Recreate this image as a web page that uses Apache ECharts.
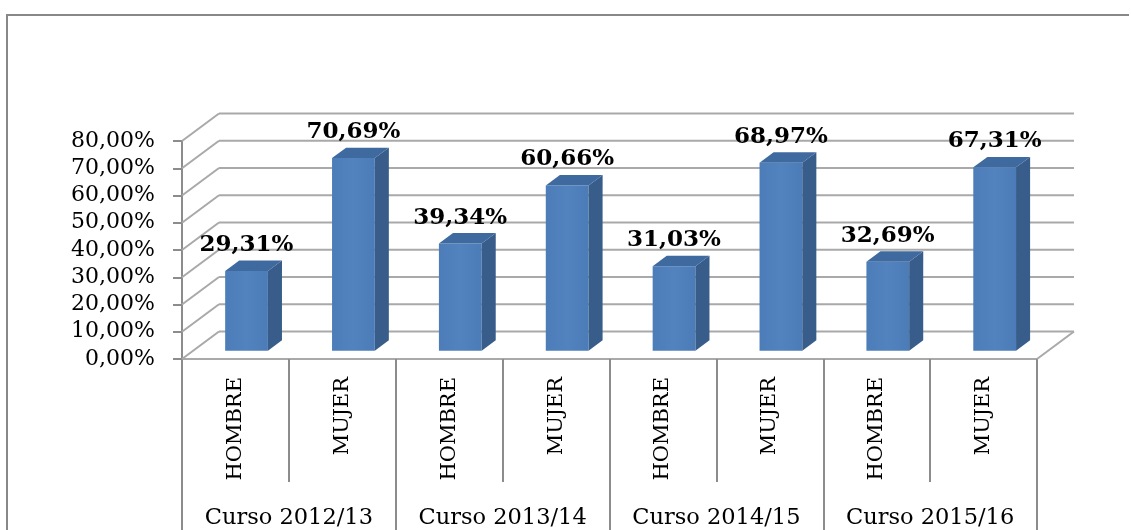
<!DOCTYPE html>
<html><head><meta charset="utf-8">
<script src="https://cdn.jsdelivr.net/npm/echarts@6/dist/echarts.min.js"></script>
<style>
html,body{margin:0;padding:0;background:#fff;overflow:hidden}
#wrap{position:relative;width:1131px;height:530px;overflow:hidden}
#c{width:1131px;height:530px}
#frame{position:absolute;left:6px;top:14px;width:1121px;height:600px;border-top:2px solid #888;border-left:2px solid #888;pointer-events:none}
</style>
</head><body><div id="wrap"><div id="c"></div><div id="frame"></div></div><script>
// ---- data ----
const courses = ['Curso 2012/13', 'Curso 2013/14', 'Curso 2014/15', 'Curso 2015/16'];
const genders = ['HOMBRE', 'MUJER'];
const categories = ['HOMBRE', 'MUJER', 'HOMBRE', 'MUJER', 'HOMBRE', 'MUJER', 'HOMBRE', 'MUJER'];
const values = [0.2931, 0.7069, 0.3934, 0.6066, 0.3103, 0.6897, 0.3269, 0.6731];
const yTicks = [0, 0.1, 0.2, 0.3, 0.4, 0.5, 0.6, 0.7, 0.8];

// ---- style ----
const FONT = 'DejaVu Serif';
const DX = 37, DY = 27.5;       // depth of the 3D box
const GRID_COLOR = '#a9a9a9';
const AXIS_COLOR = '#8c8c8c';
const fmt = v => (v * 100).toFixed(2).replace('.', ',') + '%';

function renderWall(params, api) {
  const v = api.value(1);
  const cs = params.coordSys;
  const y = api.coord([0, v])[1];
  const x0 = cs.x, x1 = cs.x + cs.width;
  const st = { stroke: GRID_COLOR, lineWidth: 2 };
  const ch = [
    { type: 'line', shape: { x1: x0, y1: y, x2: x0 + DX, y2: y - DY }, style: st },
    { type: 'line', shape: { x1: x0 + DX, y1: y - DY, x2: x1 + DX, y2: y - DY }, style: st }
  ];
  if (v === 0) {
    ch.push({ type: 'line', shape: { x1: x1, y1: y, x2: x1 + DX, y2: y - DY }, style: st });
  }
  return { type: 'group', children: ch };
}

function renderBar(params, api) {
  const idx = api.value(0), v = api.value(1);
  const base = api.coord([idx, 0]);
  const top = api.coord([idx, v]);
  const bw = api.size([1, 0])[0];
  const w = bw * 0.40;
  const off = 0.3, d = 0.38;
  const fx = base[0] - w / 2 + DX * off;
  const fyb = base[1] - DY * off;
  const fyt = top[1] - DY * off;
  const sdx = DX * d, sdy = DY * d;
  return {
    type: 'group',
    children: [
      { type: 'rect', shape: { x: fx, y: fyt, width: w, height: fyb - fyt },
        style: { fill: new echarts.graphic.LinearGradient(0, 0, 1, 0, [
          { offset: 0, color: '#4c7db9' }, { offset: 0.5, color: '#5283bf' }, { offset: 1, color: '#4c7cb8' }]) } },
      { type: 'polygon', shape: { points: [[fx + w, fyt], [fx + w + sdx, fyt - sdy], [fx + w + sdx, fyb - sdy], [fx + w, fyb]] },
        style: { fill: '#385d8a' } },
      { type: 'polygon', shape: { points: [[fx, fyt], [fx + sdx, fyt - sdy], [fx + w + sdx, fyt - sdy], [fx + w, fyt]] },
        style: { fill: '#3f6aa0' } },
      { type: 'text', style: { x: fx + w / 2, y: fyt - 26, text: fmt(v), align: 'center', verticalAlign: 'middle',
        font: 'bold 23px "' + FONT + '"', fill: '#000' } }
    ]
  };
}

const chart = echarts.init(document.getElementById('c'), null, { renderer: 'canvas' });
chart.setOption({
  animation: false,
  backgroundColor: '#fff',
  grid: { left: 182, right: 94, top: 141, bottom: 171, containLabel: false },
  xAxis: [
    { type: 'category', data: categories, position: 'bottom',
      axisLine: { show: true, lineStyle: { color: GRID_COLOR, width: 2 } },
      axisTick: { show: true, interval: 0, length: 123, lineStyle: { color: AXIS_COLOR, width: 2 } },
      axisLabel: { interval: 0, rotate: 90, margin: 18, fontFamily: FONT, fontSize: 21, color: '#000' },
      splitLine: { show: false } },
    { type: 'category', data: courses, position: 'bottom', gridIndex: 0,
      axisLine: { show: false },
      axisTick: { show: true, interval: 0, length: 175, lineStyle: { color: AXIS_COLOR, width: 2 } },
      axisLabel: { interval: 0, margin: 148, fontFamily: FONT, fontSize: 22.5, color: '#000' },
      splitLine: { show: false } }
  ],
  yAxis: { type: 'value', min: 0, max: 0.8, interval: 0.1,
    axisLine: { show: true, lineStyle: { color: AXIS_COLOR, width: 2 } },
    axisTick: { show: true, length: 9, lineStyle: { color: AXIS_COLOR, width: 2 } },
    axisLabel: { margin: 27, formatter: fmt, fontFamily: FONT, fontSize: 22, color: '#000' },
    splitLine: { show: false } },
  series: [
    { type: 'custom', name: 'walls', xAxisIndex: 0, yAxisIndex: 0, clip: false, z: 1,
      data: yTicks.map(v => [0, v]), encode: { x: 0, y: 1 }, renderItem: renderWall, silent: true },
    { type: 'custom', name: 'bars', xAxisIndex: 0, yAxisIndex: 0, clip: false, z: 3,
      data: values.map((v, i) => [i, v]), encode: { x: 0, y: 1 }, renderItem: renderBar }
  ]
});
</script></body></html>
